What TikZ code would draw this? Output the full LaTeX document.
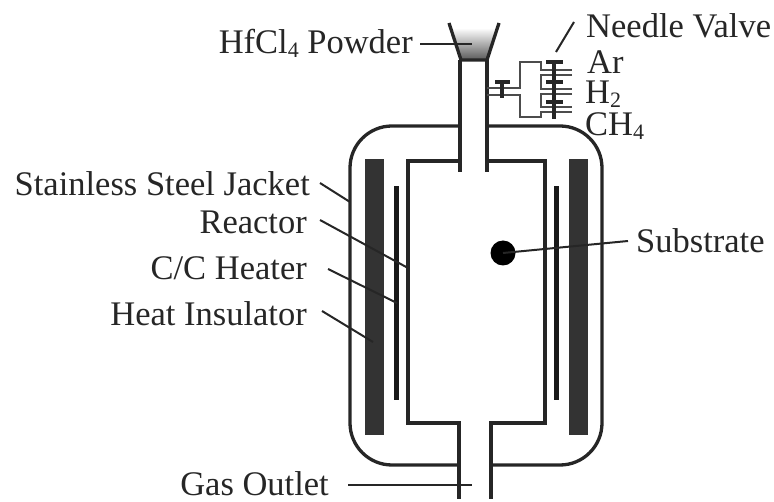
\documentclass[tikz,border=0pt]{standalone}
\usepackage{fontspec}
\setmainfont{Liberation Serif}
\newcommand{\lowsub}[1]{\raisebox{-4pt}{\fontsize{22}{22}\selectfont #1}}
\begin{document}
\begin{tikzpicture}[x=1pt,y=-1pt,
  wall/.style={line width=3.3pt,draw=black!85,line cap=butt},
  thin/.style={line width=2pt,draw=black!70},
  leader/.style={line width=2pt,draw=black!85},
  bar/.style={fill=black!80,draw=none},
  heat/.style={fill=black!90,draw=none},
  lab/.style={font=\fontsize{34.5}{36}\selectfont,text=black!85,inner sep=0pt}]
\useasboundingbox (0,0) rectangle (774,502);
% jacket
\draw[wall,rounded corners=42pt] (460,126) -- (350,126) -- (350,465) -- (459,465);
\draw[wall,rounded corners=42pt] (487,126) -- (602,126) -- (602,465) -- (491,465);
% reactor
\draw[wall] (460,60) -- (460,172);
\draw[wall] (487,60) -- (487,172);
\draw[wall,line join=miter] (460,161) -- (408,161) -- (408,423) -- (459,423) -- (459,499);
\draw[wall,line join=miter] (487,161) -- (545,161) -- (545,423) -- (491,423) -- (491,499);
% insulator
\node[bar,minimum width=19pt,minimum height=276pt,inner sep=0pt] (insL) at (374.5,297) {};
\node[bar,minimum width=19pt,minimum height=276pt,inner sep=0pt] (insR) at (578,297) {};
% heater
\node[heat,minimum width=5pt,minimum height=214pt,inner sep=0pt] (heatL) at (396.5,293) {};
\node[heat,minimum width=5pt,minimum height=214pt,inner sep=0pt] (heatR) at (556.5,293) {};
% funnel
\shade[top color=white,bottom color=black!65,shading angle=0] (453,28) -- (497,28) -- (487,60) -- (461,60) -- cycle;
\draw[wall] (449,23) -- (461,60) -- (487,60) -- (499,23);
% gas lines
\draw[thin] (487,88) -- (520,88) -- (520,62) -- (541,62) -- (541,70) -- (572,70);
\draw[thin] (572,75) -- (541,75) -- (541,89) -- (572,89);
\draw[thin] (572,94) -- (541,94) -- (541,107) -- (572,107);
\draw[thin] (487,95) -- (520,95) -- (520,117) -- (541,117) -- (541,112) -- (572,112);
% valves
\draw[wall] (495,82) -- (510,82);
\draw[wall] (502,82) -- (502,98);
\draw[wall] (546,62) -- (563,62);
\draw[wall] (546,82) -- (563,82);
\draw[wall] (546,102) -- (563,102);
\draw[wall] (554,62) -- (554,119);
% substrate
\node[circle,fill=black,minimum size=25pt,inner sep=0pt] (sub) at (503,253) {};
% labels
\node[lab,anchor=base east] (hf) at (413,54) {HfCl\lowsub{4} Powder};
\node[lab,anchor=base west] (nv) at (586,38) {Needle Valve};
\node[lab,anchor=base west] (ar) at (587,74) {Ar};
\node[lab,anchor=base west] (h2) at (585,104) {H\lowsub{2}};
\node[lab,anchor=base west] (ch) at (585,136) {CH\lowsub{4}};
\node[lab,anchor=base east] (ss) at (310,196) {Stainless Steel Jacket};
\node[lab,anchor=base east] (re) at (307,234) {Reactor};
\node[lab,anchor=base east] (cc) at (307,280) {C/C Heater};
\node[lab,anchor=base east] (hi) at (307,326) {Heat Insulator};
\node[lab,anchor=base west] (su) at (636,253) {Substrate};
\node[lab,anchor=base east] (go) at (329,496) {Gas Outlet};
% leaders
\coordinate (hfS) at (420,44);
\coordinate (hfE) at (472,44);
\coordinate (nvS) at (574,22);
\coordinate (nvE) at (556,52);
\coordinate (ssS) at (320,183);
\coordinate (ssE) at (350,202);
\coordinate (reS) at (320,220);
\coordinate (reE) at (408,268);
\coordinate (ccS) at (328,269);
\coordinate (ccE) at (397,303);
\coordinate (hiS) at (322,311);
\coordinate (hiE) at (373,342);
\coordinate (suE) at (628,241);
\coordinate (goS) at (348,485);
\coordinate (goE) at (472,485);
\draw[leader] (hfS) -- (hfE);
\draw[leader] (nvS) -- (nvE);
\draw[leader] (ssS) -- (ssE);
\draw[leader] (reS) -- (reE);
\draw[leader] (ccS) -- (ccE);
\draw[leader] (hiS) -- (hiE);
\draw[leader] (sub.center) -- (suE);
\draw[leader] (goS) -- (goE);
\end{tikzpicture}
\end{document}
